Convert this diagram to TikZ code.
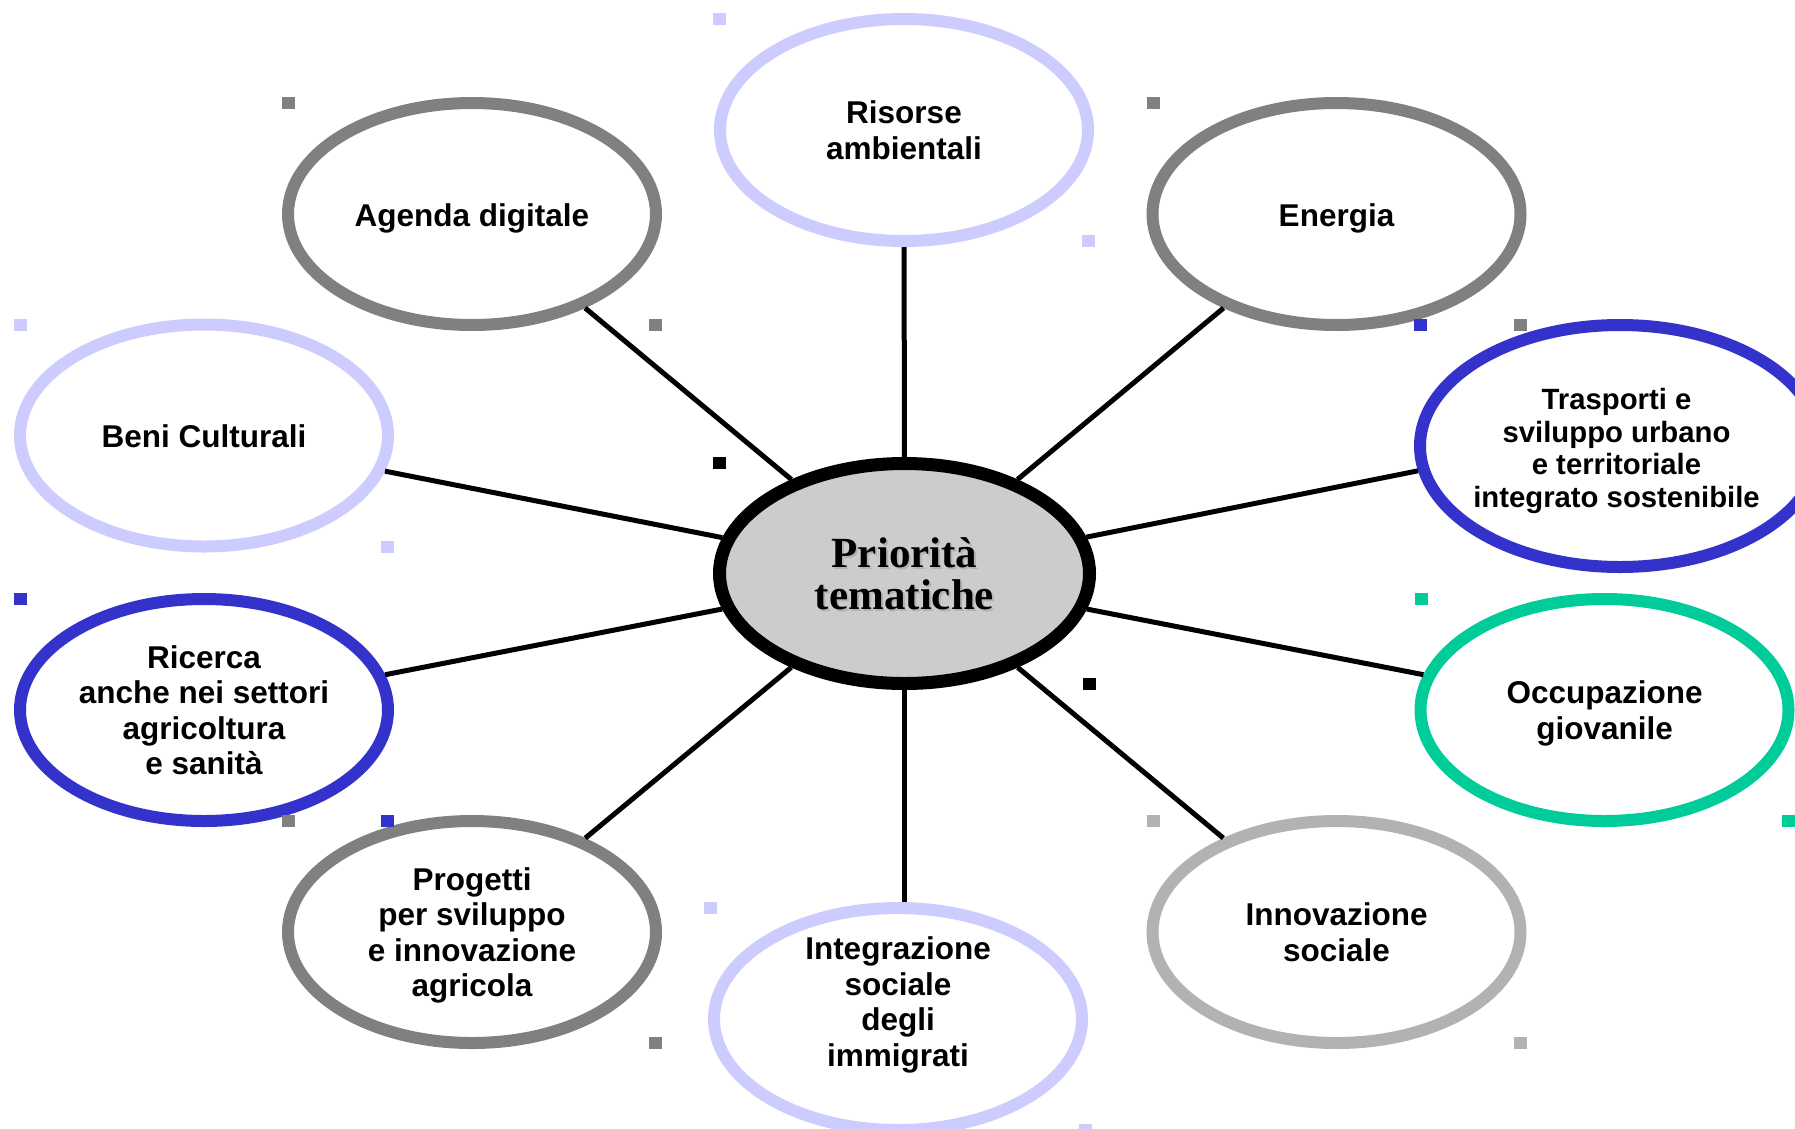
\documentclass[tikz,border=0pt]{standalone}
\usepackage{fontspec}
\newfontfamily\arialish{Liberation Sans}
\newfontfamily\timesish{Liberation Serif}
\usetikzlibrary{shapes.geometric,calc}
\definecolor{lav}{HTML}{CCCCFF}
\definecolor{midgray}{HTML}{808080}
\definecolor{ltgray}{HTML}{B2B2B2}
\definecolor{royal}{HTML}{3333CC}
\definecolor{teal2}{HTML}{00CC99}
\definecolor{cfill}{HTML}{CCCCCC}
\tikzset{
  topic/.style={ellipse, line width=12pt, fill=white, inner sep=0pt,
    minimum width=368pt, minimum height=222pt, align=center,
    font=\arialish\bfseries\fontsize{31.5}{35.5}\selectfont},
  oneline/.style={text height=31pt, text depth=7pt},
  bigtopic/.style={topic, minimum width=400pt, minimum height=242pt,
    font=\arialish\bfseries\fontsize{29.3}{32.5}\selectfont},
  centre/.style={ellipse, line width=13pt, draw=black, fill=cfill, inner sep=0pt,
    minimum width=370pt, minimum height=220pt},
  centretext/.style={align=center, inner sep=0pt,
    font=\timesish\bfseries\fontsize{43}{42}\selectfont},
  conn/.style={line width=5pt, draw=black},
}
\newcommand\drawhandles[4]{%
  \fill[#2] ([shift={(-#3,-#4)}]#1.center) rectangle ++(13,12);
  \fill[#2] ([shift={(#3,#4)}]#1.center) rectangle ++(-13,-12);
}
\begin{document}
\begin{tikzpicture}[x=1pt,y=-1pt]
\path[use as bounding box, fill=white] (0,0) rectangle (1795,1128);
\clip (0,0) rectangle (1795,1128);

% outer topics
\node[topic, draw=lav] (ris) at (904,130) {Risorse\\ambientali};
\node[topic, oneline, draw=midgray] (agd) at (472,214) {Agenda digitale};
\node[topic, oneline, draw=midgray] (ene) at (1336.5,214) {Energia};
\node[topic, oneline, draw=lav] (ben) at (204,435.5) {Beni Culturali};
\node[bigtopic, draw=royal] (tra) at (1620,446) {\makebox[0pt][c]{\raisebox{-12pt}[0pt][0pt]{\begin{tabular}{@{}c@{}}Trasporti e\\ sviluppo urbano\\ e territoriale\\ integrato sostenibile\end{tabular}}\hspace{7pt}}};
\node[topic, draw=royal] (ric) at (204,710) {Ricerca\\anche nei settori\\agricoltura\\e sanità};
\node[topic, draw=teal2] (occ) at (1604.5,710) {Occupazione\\\smash{giovanile}};
\node[topic, draw=midgray] (pro) at (472,932) {Progetti\\per sviluppo\\e innovazione\\\smash{agricola}};
\node[topic, draw=ltgray] (inn) at (1336.5,932) {Innovazione\\sociale};
\node[topic, draw=lav] (int) at (898,1019) {\raisebox{7pt}[0pt][0pt]{\begin{tabular}{@{}c@{}}Integrazione\\ sociale\\ degli\\ immigrati\end{tabular}}};

% centre
\node[centre] (c) at (904.5,573.5) {};
\node[centretext, text=black!30] (cshadow) at ([shift={(2,2)}]c.center) {Priorità\\tematiche};
\node[centretext] (ctext) at (c.center) {Priorità\\tematiche};

% connectors
\draw[conn] (c) -- (ris);
\draw[conn] (c) -- (agd);
\draw[conn] (c) -- (ene);
\draw[conn] (c) -- (ben);
\draw[conn] (c) -- (tra.187.4);
\draw[conn] (c) -- (ric);
\draw[conn] (c) -- (occ);
\draw[conn] (c) -- (pro);
\draw[conn] (c) -- (inn);
\coordinate (intend) at (c.center |- int.north);
\draw[conn] (c) -- (intend);

% selection handles
\drawhandles{ris}{lav}{191}{117}
\drawhandles{agd}{midgray}{190}{117}
\drawhandles{ene}{midgray}{190}{117}
\drawhandles{ben}{lav}{190}{117}
\drawhandles{tra}{royal}{206}{127}
\drawhandles{ric}{royal}{190}{117}
\drawhandles{occ}{teal2}{190}{117}
\drawhandles{pro}{midgray}{190}{117}
\drawhandles{inn}{ltgray}{190}{117}
\drawhandles{int}{lav}{194}{117}
\drawhandles{c}{black}{191.5}{116.5}
\end{tikzpicture}
\end{document}
